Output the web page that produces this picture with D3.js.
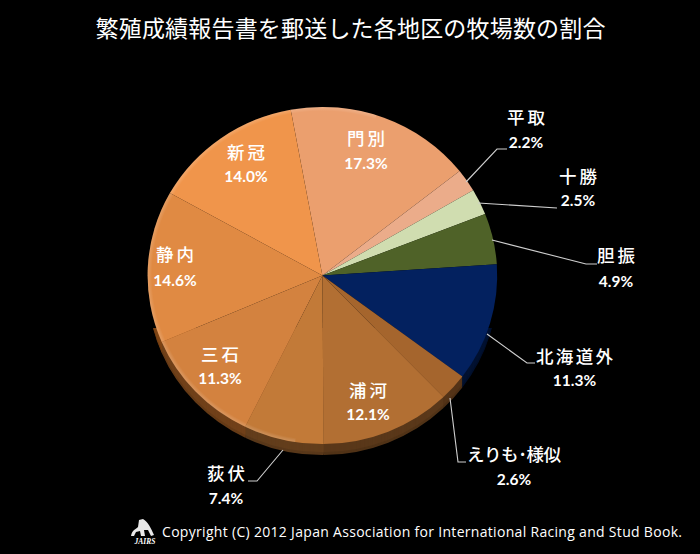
<!DOCTYPE html>
<html><head><meta charset="utf-8">
<script src="https://cdn.jsdelivr.net/npm/d3@7/dist/d3.min.js"></script>
<style>html,body{margin:0;padding:0;background:#000}svg{display:block}</style>
</head><body><div id="c"></div>
<script>
const regions=["門別","平取","十勝","胆振","北海道外","えりも･様似","浦河","荻伏","三石","静内","新冠"];
const shares=[17.3,2.2,2.5,4.9,11.3,2.6,12.1,7.4,11.3,14.6,14.0];
const colors=["#EB9F6E","#EBAC8A","#D0DDB0","#4F6228","#03215F","#A5652D","#B26F33","#C27A38","#D3823F","#E08A43","#F0954B"];
const title="繁殖成績報告書を郵送した各地区の牧場数の割合";
const copyright="Copyright (C) 2012 Japan Association for International Racing and Stud Book.";

const W=700,H=554,cx=322.4,cy=275.5,rx=174.8,ry=168.6,depth=11;
const svg=d3.select("#c").append("svg").attr("width",W).attr("height",H).style("background","#000");
const jp='"Noto Sans CJK JP","Noto Sans",sans-serif';

svg.append("text").attr("x",350.5).attr("y",37).attr("text-anchor","middle")
  .attr("font-family",jp).attr("font-size",23).attr("font-weight",400).attr("fill","#fff").attr("textLength",510).text(title);

const pie=d3.pie().value(d=>d.v).sort(null).startAngle(-10.44*Math.PI/180).endAngle((360-10.44)*Math.PI/180);
const arcs=pie(regions.map((n,i)=>({n,v:shares[i],c:colors[i]})));
const arc=d3.arc().innerRadius(0).outerRadius(rx);

const defs=svg.append("defs");
defs.append("clipPath").attr("id","rimClip").append("rect").attr("x",0).attr("y",328).attr("width",W).attr("height",H-328);

// extruded rim: stacked copies of the pie, stepping downward
const steps=d3.range(depth,0,-1);
svg.append("g").attr("clip-path","url(#rimClip)").selectAll("g.rim").data(steps).join("g").attr("class","rim")
  .attr("transform",d=>`translate(${cx},${cy+d}) scale(1,${ry/rx})`)
  .each(function(step){
    d3.select(this).selectAll("path").data(arcs).join("path").attr("d",arc)
      .attr("fill",d=>d3.hsl(d.data.c).darker(step>8?2.2:1.9).formatHex());
  });

const grad=defs.append("radialGradient").attr("id","sheen").attr("gradientUnits","userSpaceOnUse")
  .attr("cx",0).attr("cy",0).attr("r",rx);
grad.append("stop").attr("offset","0.975").attr("stop-color","#fff").attr("stop-opacity",0);
grad.append("stop").attr("offset","1").attr("stop-color","#fff").attr("stop-opacity",0.18);

const face=svg.append("g").attr("transform",`translate(${cx},${cy}) scale(1,${ry/rx})`);
face.selectAll("path.s").data(arcs).join("path").attr("class","s").attr("d",arc).attr("fill",d=>d.data.c);
face.append("path").attr("d",d3.arc().innerRadius(0).outerRadius(rx).startAngle(Math.PI*1.05).endAngle(Math.PI*2.1)()).attr("fill","url(#sheen)");

// leader lines
const leaders=d3.line();
const leaderPts=[
 [[466,182],[497,149],[507,149]],
 [[478,203],[557,208]],
 [[492,240],[586,264],[597,264]],
 [[487,334],[527,363],[535,363]],
 [[450,398],[458,462],[466,462]],
 [[283,450],[257,481],[248,481]]
];
svg.selectAll("path.lead").data(leaderPts).join("path").attr("class","lead").attr("d",leaders)
  .attr("fill","none").attr("stroke","#cfcfcf").attr("stroke-width",1.1);

// labels placed per region: x, name baseline, percent baseline
const labelPos={"門別":[366,145,169],"平取":[526,124,148],"十勝":[578,183,206],"胆振":[616,262,287],
"北海道外":[574.5,363,386],"えりも･様似":[514,461,485],"浦河":[368,397,420],"荻伏":[226,480,504],
"三石":[220,361,384],"静内":[175,261,286],"新冠":[246,159,182]};
const labelWidth=n=>n.length===2?38:n.length===4?77:94;
const lab=svg.selectAll("g.lab").data(arcs).join("g").attr("class","lab");
lab.append("text").attr("x",d=>labelPos[d.data.n][0]).attr("y",d=>labelPos[d.data.n][1]).attr("text-anchor","middle")
  .attr("font-family",jp).attr("font-size",17.5).attr("font-weight",500).attr("fill","#fff")
  .attr("textLength",d=>labelWidth(d.data.n)).text(d=>d.data.n);
lab.append("text").attr("x",d=>labelPos[d.data.n][0]).attr("y",d=>labelPos[d.data.n][2]).attr("text-anchor","middle")
  .attr("font-family","Lato,sans-serif").attr("font-size",15.5).attr("font-weight",700).attr("fill","#fff").text(d=>d3.format(".1f")(d.data.v)+"%");

// footer
svg.append("text").attr("x",162).attr("y",537).attr("font-family",'"Open Sans",sans-serif').attr("font-size",14)
  .attr("fill","#fff").attr("textLength",520).text(copyright);
const logo=svg.append("g");
logo.append("path").attr("d","M131 536 C132 530 136 529 138 527 L139 520 L143 519 C148 522 151 528 154 535 L151 536 L148 530 L144 530 L145 536 L141 536 L140 531 L136 532 L134 536 Z").attr("fill","#e8e8e8");
logo.append("text").attr("x",145).attr("y",544).attr("text-anchor","middle").attr("font-family",'"Liberation Serif",serif')
  .attr("font-style","italic").attr("font-weight",700).attr("font-size",7.5).attr("fill","#fff").text("JAIRS");
</script></body></html>
